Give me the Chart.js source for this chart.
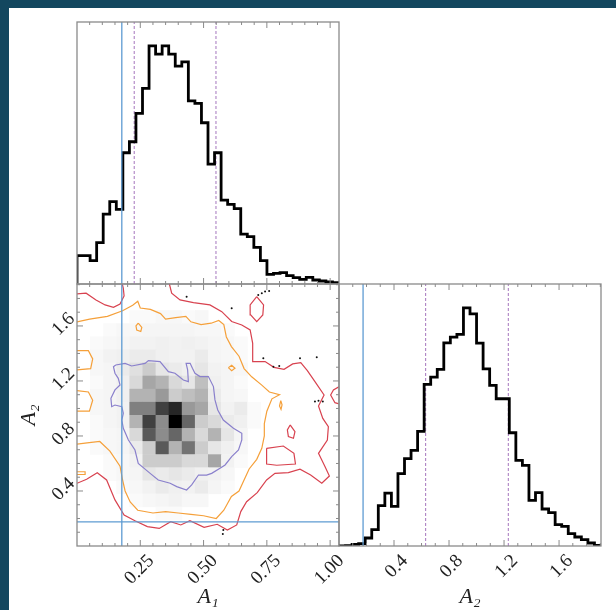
<!DOCTYPE html>
<html lang="en">
<head>
<meta charset="UTF-8">
<script src="https://cdn.jsdelivr.net/npm/chart.js"></script>
<title>Corner A1 / A2</title>
<style>
    body { margin: 0; background: #13475f; }
    #fundo { position: absolute; left: 9px; top: 8px; width: 607px; height: 602px; background: #fff; }
    canvas { position: absolute; }
</style>
</head>
<body>
<div id="fundo"></div>
<canvas id="histA1" width="282" height="282" style="left:67px;top:12px"></canvas>
<canvas id="densidadeA1A2" width="349" height="336" style="left:0px;top:274px"></canvas>
<canvas id="histA2" width="287" height="336" style="left:329px;top:274px"></canvas>
<script>
// ---- dados ----
var limA1 = [0, 1.035]
var limA2 = [0, 1.905]
var ticksA1 = [0.25, 0.50, 0.75, 1.00]
var ticksA2 = [0.4, 0.8, 1.2, 1.6]

// 40 bins cada
var contagemA1 = [85, 85, 70, 124, 210, 247, 224, 394, 427, 512, 587, 715, 690, 715, 690, 654, 667, 550, 542, 484,
                  360, 394, 252, 239, 226, 150, 142, 110, 70, 29, 32, 34, 25, 19, 14, 20, 12, 9, 6, 4]
var contagemA2 = [0, 1, 5, 7, 24, 49, 121, 159, 119, 217, 262, 287, 344, 485, 507, 530, 610, 627, 635, 715,
                  697, 609, 532, 482, 442, 442, 340, 257, 242, 137, 160, 111, 100, 64, 59, 37, 27, 19, 9, 2]

var verdadeA1 = 0.177
var verdadeA2 = 0.175
var quantisA1 = [0.226, 0.549]
var quantisA2 = [0.630, 1.231]

// histograma 2D 20x20, primeira linha = A2 mais alto
var densidade = [
    [0,0,0,0,0,0,0,0,0,0,0,0,0,0,0,0,0,0,0,0],
    [0,0,0,0,0,0,0,0,0,0,0,0,0,0,0,0,0,0,0,0],
    [0,0,0,0,.02,.02,.03,.03,.02,.03,0,0,0,0,0,0,0,0,0,0],
    [0,0,.02,.03,.03,.04,.04,.04,.04,.03,.03,.02,0,0,0,0,0,0,0,0],
    [0,.02,.03,.04,.05,.05,.06,.05,.06,.05,.04,.03,.02,0,0,0,0,0,0,0],
    [0,.03,.05,.06,.08,.08,.06,.05,.05,.08,.04,.03,.02,0,0,0,0,0,0,0],
    [0,.03,.04,.08,.12,.20,.10,.08,.06,.10,.05,.04,.03,0,0,0,0,0,0,0],
    [0,.02,.04,.06,.15,.35,.30,.15,.10,.25,.06,.04,.02,0,0,0,0,0,0,0],
    [0,.03,.04,.06,.30,.30,.40,.20,.25,.30,.08,.04,.03,0,0,0,0,0,0,0],
    [0,.03,.04,.05,.50,.50,.75,.85,.40,.35,.10,.05,.08,.02,0,0,0,0,0,0],
    [0,.02,.04,.05,.30,.75,.45,1.0,.60,.20,.15,.08,.06,.02,0,0,0,0,0,0],
    [0,.02,.03,.04,.15,.65,.45,.60,.30,.15,.30,.10,.04,0,0,0,0,0,0,0],
    [0,.02,.03,.04,.08,.20,.65,.30,.55,.20,.10,.06,.03,0,0,0,0,0,0,0],
    [0,0,.02,.03,.05,.20,.20,.20,.15,.15,.35,.05,.02,0,0,0,0,0,0,0],
    [0,0,.02,.03,.04,.10,.08,.10,.08,.06,.05,.03,0,0,0,0,0,0,0,0],
    [0,0,0,.02,.03,.05,.08,.06,.05,.08,.04,.02,0,0,0,0,0,0,0,0],
    [0,0,0,0,.02,.03,.04,.05,.03,.03,0,0,0,0,0,0,0,0,0,0],
    [0,0,0,0,0,0,.02,.02,0,0,0,0,0,0,0,0,0,0,0,0],
    [0,0,0,0,0,0,0,0,0,0,0,0,0,0,0,0,0,0,0,0],
    [0,0,0,0,0,0,0,0,0,0,0,0,0,0,0,0,0,0,0,0]
]

// contornos [A1, A2]
var contornoRoxo = [[0.153,1.316],[0.190,1.328],[0.216,1.309],[0.269,1.328],[0.282,1.348],[0.328,1.341],[0.361,1.268],
    [0.387,1.256],[0.420,1.207],[0.440,1.195],[0.437,1.280],[0.431,1.328],[0.447,1.328],[0.456,1.292],[0.466,1.256],
    [0.486,1.232],[0.519,1.232],[0.539,1.159],[0.545,1.062],[0.556,0.989],[0.578,0.916],[0.618,0.856],[0.651,0.819],
    [0.651,0.771],[0.638,0.698],[0.611,0.650],[0.585,0.589],[0.565,0.565],[0.532,0.528],[0.512,0.516],[0.480,0.516],
    [0.453,0.444],[0.433,0.407],[0.394,0.432],[0.368,0.456],[0.321,0.480],[0.289,0.528],[0.242,0.601],[0.229,0.698],
    [0.203,0.771],[0.183,0.856],[0.177,0.916],[0.183,0.965],[0.177,1.013],[0.150,1.025],[0.137,1.013],[0.134,1.074],
    [0.150,1.135],[0.170,1.171],[0.163,1.219],[0.150,1.256],[0.144,1.304],[0.153,1.316]]

var contornoLaranja = [[0.00,1.63],[0.05,1.65],[0.12,1.67],[0.18,1.71],[0.22,1.75],[0.24,1.78],[0.25,1.73],[0.29,1.72],
    [0.33,1.69],[0.35,1.65],[0.39,1.66],[0.43,1.67],[0.45,1.63],[0.49,1.61],[0.53,1.62],[0.56,1.64],[0.58,1.61],
    [0.59,1.52],[0.61,1.45],[0.64,1.38],[0.66,1.29],[0.69,1.23],[0.73,1.17],[0.76,1.12],[0.80,1.10],[0.77,1.07],
    [0.75,0.98],[0.74,0.89],[0.74,0.80],[0.73,0.71],[0.71,0.63],[0.68,0.56],[0.66,0.48],[0.64,0.40],[0.61,0.36],
    [0.58,0.26],[0.55,0.20],[0.50,0.22],[0.45,0.23],[0.40,0.24],[0.35,0.25],[0.30,0.24],[0.24,0.26],[0.21,0.32],
    [0.19,0.40],[0.18,0.48],[0.17,0.58],[0.13,0.69],[0.09,0.76],[0.04,0.75],[0.00,0.74]]
var ilhasLaranja = [
    [[0.00,1.42],[0.045,1.42],[0.062,1.36],[0.054,1.29],[0.00,1.28]],
    [[0.00,1.13],[0.045,1.12],[0.062,1.06],[0.049,0.98],[0.00,0.98]],
    [[0.00,0.54],[0.032,0.54],[0.032,0.52],[0.00,0.52]],
    [[0.242,1.62],[0.256,1.59],[0.252,1.56],[0.236,1.57],[0.233,1.60],[0.242,1.62]],
    [[0.598,1.297],[0.611,1.314],[0.624,1.292],[0.611,1.275],[0.598,1.297]],
    [[0.805,1.057],[0.810,1.026],[0.806,0.994],[0.800,1.018],[0.805,1.057]]
]

var contornoVermelho = [
    [[0.000,1.833],[0.036,1.838],[0.075,1.789],[0.111,1.753],[0.144,1.736],[0.170,1.760],[0.186,1.818],[0.183,1.873],[0.179,1.905]],
    [[0.365,1.905],[0.374,1.838],[0.407,1.789],[0.460,1.770],[0.525,1.753],[0.572,1.704],[0.611,1.632],[0.651,1.607],
     [0.684,1.571],[0.694,1.474],[0.694,1.341],[0.743,1.341],[0.778,1.299],[0.818,1.285],[0.852,1.324],[0.884,1.333],
     [0.910,1.275],[0.940,1.195],[0.976,1.098],[0.954,1.018],[0.971,0.928],[0.993,0.868],[0.989,0.771],[0.954,0.674],
     [0.980,0.577],[0.997,0.509],[0.967,0.456],[0.923,0.516],[0.881,0.558],[0.835,0.533],[0.782,0.528],[0.749,0.480],
     [0.712,0.388],[0.670,0.322],[0.647,0.250],[0.631,0.153],[0.594,0.116],[0.554,0.158],[0.502,0.136],[0.446,0.184],
     [0.410,0.153],[0.370,0.177],[0.325,0.128],[0.278,0.141],[0.229,0.184],[0.186,0.225],[0.150,0.335],[0.117,0.480],
     [0.080,0.533],[0.038,0.485],[0.000,0.456]],
    [[1.036,1.159],[1.013,1.135],[1.002,1.098],[1.019,1.042],[1.036,1.033]],
    [[0.710,1.813],[0.737,1.753],[0.734,1.680],[0.710,1.631],[0.686,1.680],[0.684,1.753],[0.710,1.813]],
    [[0.842,0.880],[0.861,0.832],[0.855,0.783],[0.835,0.795],[0.831,0.844],[0.842,0.880]],
    [[0.749,0.710],[0.815,0.727],[0.857,0.674],[0.863,0.596],[0.789,0.587],[0.749,0.596],[0.749,0.710]]
]

var pontosSoltos = [[0.433,1.813],[0.716,1.825],[0.730,1.838],[0.743,1.850],[0.759,1.855],[0.611,1.728],
    [0.736,1.365],[0.776,1.304],[0.799,1.309],[0.881,1.365],[0.947,1.372],[0.940,1.050],[0.954,1.057],
    [0.971,1.050],[0.578,0.116],[0.576,0.087]]

// ---- estilos ----
var corMoldura = '#8a8a8a'
var corAzul = '#5e9bd2'
var corQuantil = '#a575bd'
var fonteTicks = { family: 'Liberation Serif', size: 19 }
var fonteTitulo = { family: 'Liberation Serif', size: 22, style: 'italic' }

function xy(pares) {
    return pares.map(p => ({ x: p[0], y: p[1] }))
}

function degraus(contagem, lim) {
    var larg = (lim[1] - lim[0]) / contagem.length
    var pts = [{ x: lim[0], y: 0 }]
    for (var i = 0; i < contagem.length; i++) {
        pts.push({ x: lim[0] + i * larg, y: contagem[i] })
    }
    pts.push({ x: lim[1], y: 0 })
    return pts
}

function marcas(lim, maiores, passo) {
    var lista = maiores.map(v => [v, 6])
    for (var v = passo; v < lim[1]; v += passo) {
        if (!maiores.some(m => Math.abs(m - v) < 1e-6)) lista.push([v, 3])
    }
    return lista
}

function moldura(cfg) {
    return {
        id: 'moldura',
        afterDraw(chart) {
            var ctx = chart.ctx, a = chart.chartArea
            ctx.save()
            ctx.strokeStyle = corMoldura
            ctx.lineWidth = 1
            ctx.beginPath()
            cfg.x.forEach(function (m) {
                var px = chart.scales.x.getPixelForValue(m[0])
                ctx.moveTo(px, a.top); ctx.lineTo(px, a.top + m[1])
                ctx.moveTo(px, a.bottom); ctx.lineTo(px, a.bottom - m[1])
            })
            if (cfg.y) {
                cfg.y.forEach(function (m) {
                    var py = chart.scales.y.getPixelForValue(m[0])
                    ctx.moveTo(a.left, py); ctx.lineTo(a.left + m[1], py)
                    ctx.moveTo(a.right, py); ctx.lineTo(a.right - m[1], py)
                })
            }
            ctx.stroke()
            ctx.lineWidth = 1.3
            ctx.strokeRect(a.left, a.top, a.right - a.left, a.bottom - a.top)
            ctx.restore()
        }
    }
}

var celulas = {
    id: 'celulas',
    beforeDatasetsDraw(chart) {
        var ctx = chart.ctx, sx = chart.scales.x, sy = chart.scales.y
        var nL = densidade.length, nC = densidade[0].length
        var dx = (limA1[1] - limA1[0]) / nC, dy = (limA2[1] - limA2[0]) / nL
        ctx.save()
        for (var j = 0; j < nL; j++) {
            for (var i = 0; i < nC; i++) {
                var v = densidade[j][i]
                if (!v) continue
                var x0 = sx.getPixelForValue(limA1[0] + i * dx)
                var x1 = sx.getPixelForValue(limA1[0] + (i + 1) * dx)
                var y0 = sy.getPixelForValue(limA2[1] - j * dy)
                var y1 = sy.getPixelForValue(limA2[1] - (j + 1) * dy)
                var g = Math.round(255 * (1 - v))
                ctx.fillStyle = 'rgb(' + g + ',' + g + ',' + g + ')'
                ctx.fillRect(x0, y0, x1 - x0 + 0.5, y1 - y0 + 0.5)
            }
        }
        ctx.restore()
    }
}

function linha(pts, cor, larg, tracejado) {
    return {
        data: pts, showLine: true, fill: false, pointRadius: 0, tension: 0,
        borderColor: cor, borderWidth: larg, borderDash: tracejado || []
    }
}

function eixoX(lim, ticks, casas, titulo) {
    return {
        type: 'linear', min: lim[0], max: lim[1],
        grid: { display: false, drawTicks: false }, border: { display: false },
        afterBuildTicks: s => { s.ticks = ticks.map(v => ({ value: v })) },
        afterFit: s => { s.height = 64; s.paddingLeft = 0; s.paddingRight = 0 },
        ticks: {
            font: fonteTicks, color: '#222', minRotation: 45, maxRotation: 45,
            padding: 4, labelOffset: 11, autoSkip: false,
            callback: v => Number(v).toFixed(casas)
        },
        title: { display: true, text: titulo, font: fonteTitulo, color: '#222', padding: { bottom: 0 } }
    }
}

var base = {
    responsive: false, animation: false, events: [],
    plugins: { legend: { display: false }, tooltip: { enabled: false } }
}

function carregarHistA1() {
    var yMax = Math.max(...contagemA1) * 1.1
    var ds = [linha([{ x: verdadeA1, y: 0 }, { x: verdadeA1, y: yMax }], corAzul, 1.3)]
    var h = linha(degraus(contagemA1, limA1), '#000', 2.8)
    h.stepped = 'before'
    ds.push(h)
    quantisA1.forEach(q => ds.push(linha([{ x: q, y: 0 }, { x: q, y: yMax }], corQuantil, 1, [3, 2])))
    new Chart(histA1, {
        type: 'scatter',
        data: { datasets: ds },
        options: Object.assign({}, base, {
            layout: { padding: 10 },
            scales: {
                x: { type: 'linear', min: limA1[0], max: limA1[1], display: false },
                y: { min: 0, max: yMax, display: false }
            }
        }),
        plugins: [moldura({ x: marcas(limA1, ticksA1, 0.05) })]
    })
}

function carregarDensidade() {
    var ds = []
    ds.push(linha([{ x: verdadeA1, y: limA2[0] }, { x: verdadeA1, y: limA2[1] }], corAzul, 1.3))
    ds.push(linha([{ x: limA1[0], y: verdadeA2 }, { x: limA1[1], y: verdadeA2 }], corAzul, 1.3))
    ds.push({ data: xy(pontosSoltos), pointRadius: 1, pointBackgroundColor: '#111', pointBorderWidth: 0 })
    ds.push(linha(xy(contornoRoxo), '#8a80cc', 1.2))
    ds.push(linha(xy(contornoLaranja), '#f5a03a', 1.2))
    ilhasLaranja.forEach(p => ds.push(linha(xy(p), '#f5a03a', 1.2)))
    contornoVermelho.forEach(p => ds.push(linha(xy(p), '#d8424f', 1.2)))
    new Chart(densidadeA1A2, {
        type: 'scatter',
        data: { datasets: ds },
        options: Object.assign({}, base, {
            layout: { padding: { top: 10, right: 10, left: 0, bottom: 0 } },
            scales: {
                x: eixoX(limA1, ticksA1, 2, 'A₁'),
                y: {
                    type: 'linear', min: limA2[0], max: limA2[1], position: 'left',
                    grid: { display: false, drawTicks: false }, border: { display: false },
                    afterBuildTicks: s => { s.ticks = ticksA2.map(v => ({ value: v })) },
                    afterFit: s => { s.width = 77; s.paddingTop = 0; s.paddingBottom = 0 },
                    ticks: {
                        font: fonteTicks, color: '#222', minRotation: 45, maxRotation: 45,
                        padding: 5, labelOffset: -10, autoSkip: false,
                        callback: v => Number(v).toFixed(1)
                    },
                    title: { display: true, text: 'A₂', font: fonteTitulo, color: '#222', padding: { top: 16 } }
                }
            }
        }),
        plugins: [celulas, moldura({ x: marcas(limA1, ticksA1, 0.05), y: marcas(limA2, ticksA2, 0.1) })]
    })
}

function carregarHistA2() {
    var yMax = Math.max(...contagemA2) * 1.1
    var ds = [linha([{ x: verdadeA2, y: 0 }, { x: verdadeA2, y: yMax }], corAzul, 1.3)]
    var h = linha(degraus(contagemA2, limA2), '#000', 2.8)
    h.stepped = 'before'
    ds.push(h)
    quantisA2.forEach(q => ds.push(linha([{ x: q, y: 0 }, { x: q, y: yMax }], corQuantil, 1, [3, 2])))
    new Chart(histA2, {
        type: 'scatter',
        data: { datasets: ds },
        options: Object.assign({}, base, {
            layout: { padding: { top: 10, right: 15, left: 10, bottom: 0 } },
            scales: {
                x: eixoX(limA2, ticksA2, 1, 'A₂'),
                y: { min: 0, max: yMax, display: false }
            }
        }),
        plugins: [moldura({ x: marcas(limA2, ticksA2, 0.1) })]
    })
}

carregarHistA1()
carregarDensidade()
carregarHistA2()
</script>
</body>
</html>
